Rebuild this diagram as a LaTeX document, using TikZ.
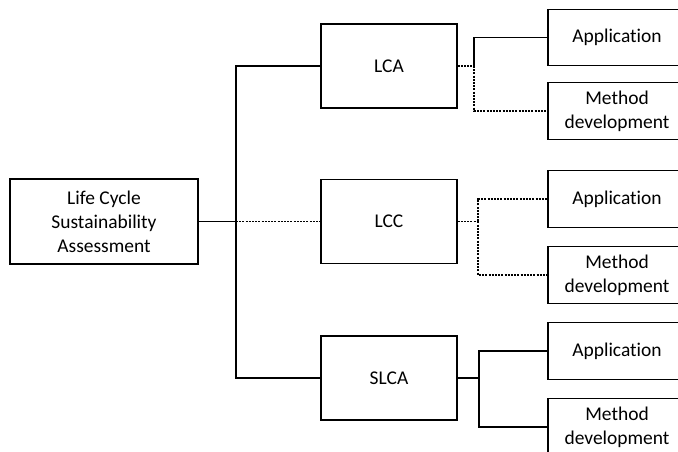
\documentclass[tikz,border=0pt]{standalone}
\usepackage{fontspec}
\setmainfont{Carlito}[Ligatures={NoCommon,NoRequired,NoContextual}]
\begin{document}
\begin{tikzpicture}[x=0.75pt,y=-0.75pt,
  box/.style={draw,line width=0.9pt,rectangle,inner sep=0pt,align=center,
    font=\fontsize{14.6}{18}\selectfont},
  mainbox/.style={box,minimum width=141pt,minimum height=63.75pt},
  midbox/.style={box,minimum width=102pt,minimum height=63pt},
  leafbox/.style={box,minimum width=103.5pt,minimum height=42.5pt},
  link/.style={line width=0.9pt},
  dots/.style={line width=0.9pt,dash pattern=on 1.5pt off 0.9pt}]
\path[use as bounding box] (0,0) rectangle (678,452);
\clip (0,0) rectangle (678,452);

% root
\node[mainbox] (lcsa) at (104,221.5) {Life Cycle\\Sustainability\\Assessment};

% second level
\node[midbox] (lca)  at (389,66)    {LCA};
\node[midbox] (lcc)  at (389,221.5) {LCC};
\node[midbox] (slca) at (389,378)   {SLCA};

% leaves
\node[leafbox] (app1)  at (617,37.5) {Application};
\node[leafbox] (meth1) at (617,111)  {Method\\development};
\node[leafbox] (app2)  at (617,199)  {Application};
\node[leafbox] (meth2) at (617,275)  {Method\\development};
\node[leafbox] (app3)  at (617,351)  {Application};
\node[leafbox] (meth3) at (617,427)  {Method\\development};

% junction points
\coordinate (j0) at (236,221.5);
\coordinate (j1) at (474,66);
\coordinate (j2) at (478,221.5);
\coordinate (j3) at (479,378);

% root to second level
\draw[link] (lcsa.east) -- (j0);
\draw[link] (lca.west) -| (j0);
\draw[link] (slca.west) -| (j0);
\draw[dots] (j0) -- (lcc.west);

% LCA branch
\draw[dots] (lca.east) -- (j1);
\draw[link] (j1) |- (app1.west);
\draw[dots] (j1) |- (meth1.west);

% LCC branch
\draw[dots] (lcc.east) -- (j2);
\draw[dots] (j2) |- (app2.west);
\draw[dots] (j2) |- (meth2.west);

% SLCA branch
\draw[link] (slca.east) -- (j3);
\draw[link] (j3) |- (app3.west);
\draw[link] (j3) |- (meth3.west);
\end{tikzpicture}
\end{document}
